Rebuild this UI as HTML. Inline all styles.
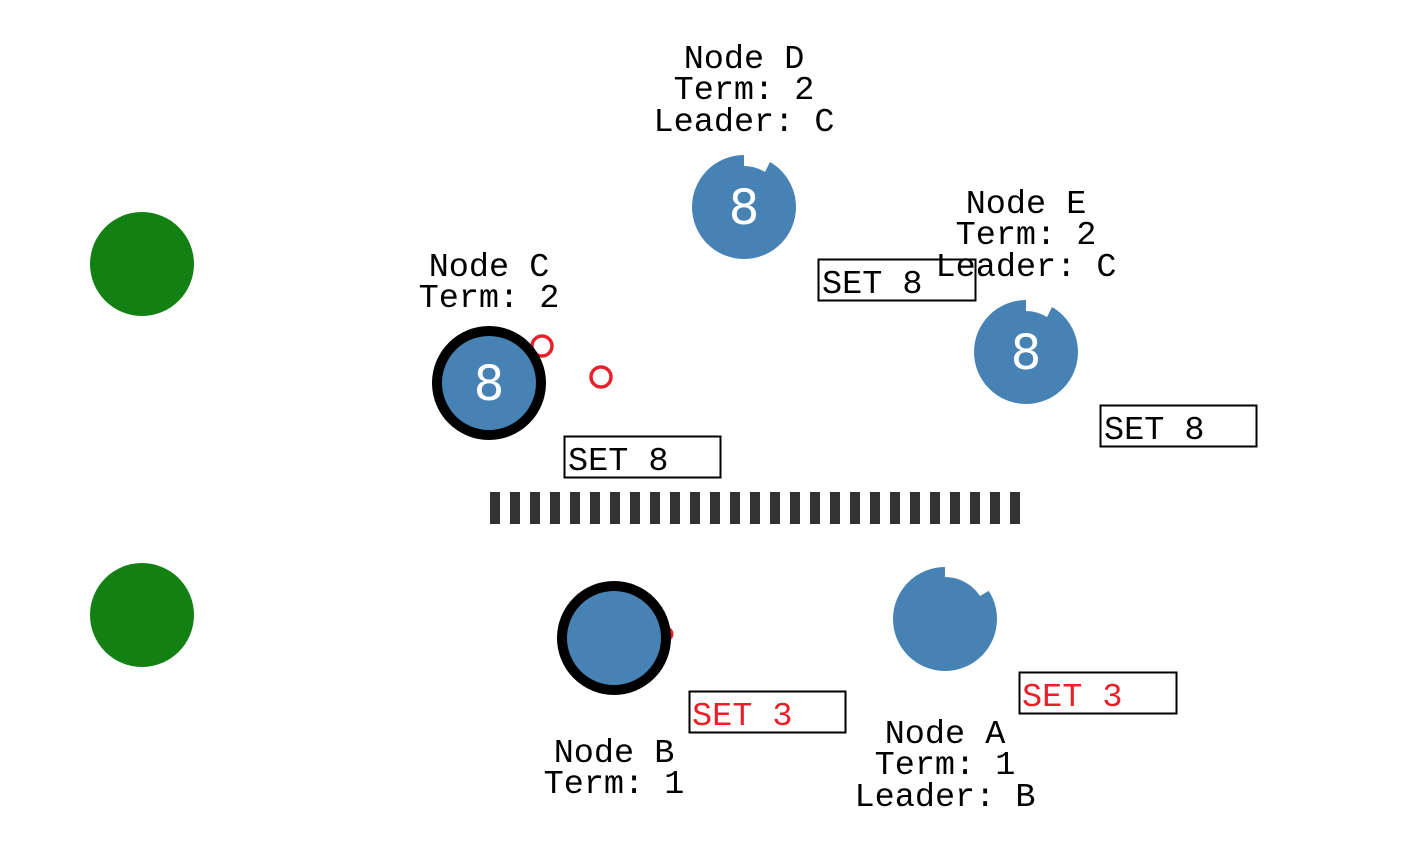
<!DOCTYPE html>
<html><head><meta charset="utf-8"><style>
html,body{margin:0;padding:0;background:#fff;width:1414px;height:868px;overflow:hidden}
text{font-family:"Liberation Mono",monospace;font-size:33.5px;fill:#000}
.n{font-family:"DejaVu Sans","Liberation Sans",sans-serif;font-size:48px;fill:#fff;font-weight:normal}
</style></head><body>
<svg width="1414" height="868" xmlns="http://www.w3.org/2000/svg">
<circle cx="142" cy="264" r="52" fill="#138013"/>
<circle cx="142" cy="615" r="52" fill="#138013"/>
<g id="bars" fill="#333">
<rect x="490" y="492" width="10" height="32"/><rect x="510" y="492" width="10" height="32"/><rect x="530" y="492" width="10" height="32"/><rect x="550" y="492" width="10" height="32"/><rect x="570" y="492" width="10" height="32"/><rect x="590" y="492" width="10" height="32"/><rect x="610" y="492" width="10" height="32"/><rect x="630" y="492" width="10" height="32"/><rect x="650" y="492" width="10" height="32"/><rect x="670" y="492" width="10" height="32"/><rect x="690" y="492" width="10" height="32"/><rect x="710" y="492" width="10" height="32"/><rect x="730" y="492" width="10" height="32"/><rect x="750" y="492" width="10" height="32"/><rect x="770" y="492" width="10" height="32"/><rect x="790" y="492" width="10" height="32"/><rect x="810" y="492" width="10" height="32"/><rect x="830" y="492" width="10" height="32"/><rect x="850" y="492" width="10" height="32"/><rect x="870" y="492" width="10" height="32"/><rect x="890" y="492" width="10" height="32"/><rect x="910" y="492" width="10" height="32"/><rect x="930" y="492" width="10" height="32"/><rect x="950" y="492" width="10" height="32"/><rect x="970" y="492" width="10" height="32"/><rect x="990" y="492" width="10" height="32"/><rect x="1010" y="492" width="10" height="32"/>
</g>
<g transform="translate(744,207)">
<circle r="52" fill="#4682b4"/>
<path d="M0,-54 L0,-41 A41,41 0 0 1 21,-35 L28,-49 A56,56 0 0 0 0,-56 Z" fill="#fff"/>
<text class="n" text-anchor="middle" y="17">8</text>
</g>
<g transform="translate(1026,352)">
<circle r="52" fill="#4682b4"/>
<path d="M0,-54 L0,-41 A41,41 0 0 1 21,-35 L28,-49 A56,56 0 0 0 0,-56 Z" fill="#fff"/>
<text class="n" text-anchor="middle" y="17">8</text>
</g>
<g transform="translate(945,619)">
<circle r="52" fill="#4682b4"/>
<path d="M0,-54 L0,-42 A42,42 0 0 1 35,-23 L47,-30 A56,56 0 0 0 0,-56 Z" fill="#fff"/>
</g>
<circle cx="542" cy="346" r="10" fill="none" stroke="#e8202a" stroke-width="3.5"/>
<circle cx="601" cy="377" r="10" fill="none" stroke="#e8202a" stroke-width="3.5"/>
<circle cx="666" cy="634" r="6" fill="none" stroke="#e8202a" stroke-width="3"/>
<circle cx="489" cy="383" r="52" fill="#4682b4" stroke="#000" stroke-width="10"/>
<text class="n" text-anchor="middle" x="489" y="400">8</text>
<circle cx="614" cy="638" r="52" fill="#4682b4" stroke="#000" stroke-width="10"/>
<rect x="818.5" y="259.5" width="157" height="41" fill="#fff" stroke="#000" stroke-width="2"/>
<text x="822" y="293">SET 8</text>
<rect x="564.5" y="436.5" width="156" height="41" fill="#fff" stroke="#000" stroke-width="2"/>
<text x="568" y="470">SET 8</text>
<rect x="1100.5" y="405.5" width="156" height="41" fill="#fff" stroke="#000" stroke-width="2"/>
<text x="1104" y="439">SET 8</text>
<rect x="689.5" y="691.5" width="156" height="41" fill="#fff" stroke="#000" stroke-width="2"/>
<text x="692" y="725" style="fill:#e8202a">SET 3</text>
<rect x="1019.5" y="672.5" width="157" height="41" fill="#fff" stroke="#000" stroke-width="2"/>
<text x="1022" y="706" style="fill:#e8202a">SET 3</text>
<g text-anchor="middle">
<text x="744" y="68">Node D</text><text x="744" y="99">Term: 2</text><text x="744" y="131">Leader: C</text>
<text x="1026" y="213">Node E</text><text x="1026" y="244">Term: 2</text><text x="1026" y="276">Leader: C</text>
<text x="489" y="276">Node C</text><text x="489" y="307">Term: 2</text>
<text x="614" y="762">Node B</text><text x="614" y="793">Term: 1</text>
<text x="945" y="743">Node A</text><text x="945" y="774">Term: 1</text><text x="945" y="806">Leader: B</text>
</g>
</svg>
</body></html>
